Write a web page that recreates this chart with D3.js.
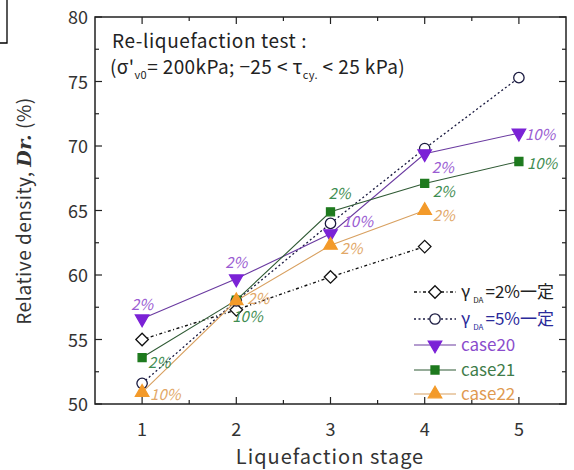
<!DOCTYPE html>
<html>
<head>
<meta charset="utf-8">
<script src="https://d3js.org/d3.v7.min.js"></script>
<style>
  body { margin:0; background:#fff; }
  text { font-family: "Noto Sans CJK JP", "Noto Sans", sans-serif; }
</style>
</head>
<body>
  <div id="my_dataviz"></div>
  <script>
    // data
    var stages = [1, 2, 3, 4, 5];
    var xTicks = [1, 2, 3, 4, 5];
    var yTicks = [50, 55, 60, 65, 70, 75, 80];
    var gamma2 = [55.0, 57.3, 59.85, 62.2];          // γDA=2%一定
    var gamma5 = [51.6, 58.0, 64.0, 69.8, 75.3];     // γDA=5%一定
    var case20 = [56.6, 59.7, 63.2, 69.4, 71.0];
    var case21 = [53.6, 58.05, 64.9, 67.1, 68.8];
    var case22 = [50.9, 58.0, 62.3, 65.0];
    var case20Labels = ["2%", "2%", "10%", "2%", "10%"];
    var case21Labels = ["2%", "10%", "2%", "2%", "10%"];
    var case22Labels = ["10%", "2%", "2%", "2%"];

    var W = 574, H = 470;
    var margin = {top:17, right:8, bottom:66, left:95};

    var svg = d3.select("#my_dataviz")
      .append("svg")
      .attr("width", W)
      .attr("height", H);

    var x = d3.scaleLinear().domain([0.5, 5.5]).range([margin.left, W - margin.right]);
    var y = d3.scaleLinear().domain([50, 80]).range([H - margin.bottom, margin.top]);

    // cropped box at the top-left corner
    svg.append("path").attr("d", "M0,43H7V0").attr("fill","none").attr("stroke","#000").attr("stroke-width",1.3);

    // frame
    svg.append("rect")
      .attr("x", x(0.5)).attr("y", y(80))
      .attr("width", x(5.5) - x(0.5)).attr("height", y(50) - y(80))
      .attr("fill","none").attr("stroke","#222").attr("stroke-width",1.5);

    // inward ticks on all four sides
    var xMinor = d3.range(1.5, 5.5, 1);
    var yMinor = d3.range(52.5, 80, 5);
    var tk = svg.append("g").attr("stroke","#222").attr("stroke-width",1.2);
    xTicks.forEach(function(v){
      tk.append("line").attr("x1",x(v)).attr("x2",x(v)).attr("y1",y(50)).attr("y2",y(50)-7);
      tk.append("line").attr("x1",x(v)).attr("x2",x(v)).attr("y1",y(80)).attr("y2",y(80)+7);
    });
    xMinor.forEach(function(v){
      tk.append("line").attr("x1",x(v)).attr("x2",x(v)).attr("y1",y(50)).attr("y2",y(50)-4);
      tk.append("line").attr("x1",x(v)).attr("x2",x(v)).attr("y1",y(80)).attr("y2",y(80)+4);
    });
    yTicks.forEach(function(v){
      tk.append("line").attr("x1",x(0.5)).attr("x2",x(0.5)+7).attr("y1",y(v)).attr("y2",y(v));
      tk.append("line").attr("x1",x(5.5)).attr("x2",x(5.5)-7).attr("y1",y(v)).attr("y2",y(v));
    });
    yMinor.forEach(function(v){
      tk.append("line").attr("x1",x(0.5)).attr("x2",x(0.5)+4).attr("y1",y(v)).attr("y2",y(v));
      tk.append("line").attr("x1",x(5.5)).attr("x2",x(5.5)-4).attr("y1",y(v)).attr("y2",y(v));
    });

    // tick labels
    svg.selectAll(".xl").data(xTicks).enter().append("text")
      .attr("x", function(d){ return x(d); }).attr("y", y(50) + 32)
      .attr("text-anchor","middle").attr("font-size",18).attr("fill","#333")
      .text(function(d){ return d; });
    svg.selectAll(".yl").data(yTicks).enter().append("text")
      .attr("x", x(0.5) - 7).attr("y", function(d){ return y(d) + 7; })
      .attr("text-anchor","end").attr("font-size",18).attr("fill","#333")
      .text(function(d){ return d; });

    // axis titles
    svg.append("text").attr("x", 330).attr("y", 464).attr("text-anchor","middle")
      .attr("font-size",20).attr("letter-spacing",1).attr("fill","#333").text("Liquefaction stage");
    var yt = svg.append("text").attr("transform","translate(31,211) rotate(-90)")
      .attr("text-anchor","middle").attr("font-size",19).attr("letter-spacing",0.5).attr("fill","#333");
    yt.append("tspan").text("Relative density, ");
    yt.append("tspan").attr("font-family","DejaVu Serif, serif").attr("font-style","italic")
      .attr("font-weight","bold").text("Dr.");
    yt.append("tspan").text(" (%)");

    // test condition note
    svg.append("text").attr("x",112).attr("y",48).attr("font-size",19).attr("letter-spacing",0.6).attr("fill","#222")
      .text("Re-liquefaction test :");
    var n2 = svg.append("text").attr("x",110).attr("y",74).attr("font-size",19).attr("letter-spacing",0.4).attr("fill","#222");
    n2.append("tspan").text("(σ'");
    n2.append("tspan").attr("font-size",11).attr("dy",5).text("v0");
    n2.append("tspan").attr("dy",-5).text("= 200kPa; −25 < τ");
    n2.append("tspan").attr("font-size",11).attr("dy",5).text("cy.");
    n2.append("tspan").attr("dy",-5).text(" < 25 kPa)");

    var series = [
      {name:"gamma2", vals:gamma2, line:"#111", dash:"3,2.5,1,2.5", width:1.4, marker:"diamond", fill:"#fff", stroke:"#111"},
      {name:"gamma5", vals:gamma5, line:"#1a1a40", dash:"2,2.5", width:1.3, marker:"circle", fill:"#fff", stroke:"#1a1a40"},
      {name:"case20", vals:case20, line:"#6a3aa0", dash:null, width:1.1, marker:"tridown", fill:"#7b22d6", stroke:"#7b22d6", labels:case20Labels, tc:"#9a5cd2"},
      {name:"case21", vals:case21, line:"#2f5a34", dash:null, width:1.1, marker:"square", fill:"#1e7a1e", stroke:"#1e7a1e", labels:case21Labels, tc:"#3f8d52"},
      {name:"case22", vals:case22, line:"#d8a060", dash:null, width:1.1, marker:"triup", fill:"#f39a2a", stroke:"#f39a2a", labels:case22Labels, tc:"#e2a868"}
    ];

    var symbols = {
      diamond: d3.symbol().type(d3.symbolDiamond2).size(100),
      circle: d3.symbol().type(d3.symbolCircle).size(85),
      tridown: d3.symbol().type(d3.symbolTriangle).size(78),
      triup: d3.symbol().type(d3.symbolTriangle).size(78),
      square: d3.symbol().type(d3.symbolSquare).size(64)
    };

    var line = d3.line()
      .x(function(d,i){ return x(stages[i]); })
      .y(function(d){ return y(d); });

    series.forEach(function(s){
      svg.append("path").attr("d", line(s.vals)).attr("fill","none")
        .attr("stroke", s.line).attr("stroke-width", s.width)
        .attr("stroke-dasharray", s.dash);
    });

    function drawMarker(g, s, cx, cy){
      var rot = s.marker === "tridown" ? " rotate(180)" : "";
      g.append("path").attr("d", symbols[s.marker]())
        .attr("transform","translate(" + cx + "," + cy + ")" + rot)
        .attr("fill", s.fill).attr("stroke", s.stroke).attr("stroke-width", 1.3);
    }

    series.forEach(function(s){
      s.vals.forEach(function(v,i){ drawMarker(svg, s, x(stages[i]), y(v)); });
    });

    // strain labels next to the case markers
    var labelPos = {
      case20: [[0,-9,"middle"],[0,-11,"middle"],[12,-7,"start"],[7,19,"start"],[6,7,"start"]],
      case21: [[6,10,"start"],[-4,22,"start"],[-2,-13,"start"],[8,14,"start"],[8,8,"start"]],
      case22: [[8,8,"start"],[11,3,"start"],[10,9,"start"],[8,10,"start"]]
    };
    series.filter(function(s){ return s.labels; }).forEach(function(s){
      s.labels.forEach(function(t,i){
        var p = labelPos[s.name][i];
        svg.append("text")
          .attr("x", x(stages[i]) + p[0]).attr("y", y(s.vals[i]) + p[1])
          .attr("text-anchor", p[2])
          .attr("font-size",15).attr("font-style","italic")
          .attr("font-family","DejaVu Serif, serif")
          .attr("fill", s.tc).text(t);
      });
    });

    // legend
    var legendRows = [292, 319, 345, 370, 394];
    var legendText = ["=2%一定", "=5%一定", "case20", "case21", "case22"];
    var legendColors = ["#222", "#2a2a9a", "#8a4ccc", "#3f7d4a", "#e09a50"];
    series.forEach(function(s,i){
      var ly = legendRows[i];
      var g = svg.append("g");
      g.append("line").attr("x1",414).attr("x2",456).attr("y1",ly).attr("y2",ly)
        .attr("stroke", s.line).attr("stroke-width", s.width).attr("stroke-dasharray", s.dash);
      drawMarker(g, s, 435, ly);
      var t = g.append("text").attr("x",461).attr("y",ly+6).attr("font-size",17).attr("fill",legendColors[i]);
      if (i < 2) {
        t.append("tspan").text("γ");
        t.append("tspan").attr("font-size",8).attr("dy",5).attr("dx",3).text("DA");
        t.append("tspan").attr("dy",-5).attr("dx",2).text(legendText[i]);
      } else {
        t.text(legendText[i]);
      }
    });
  </script>
</body>
</html>
